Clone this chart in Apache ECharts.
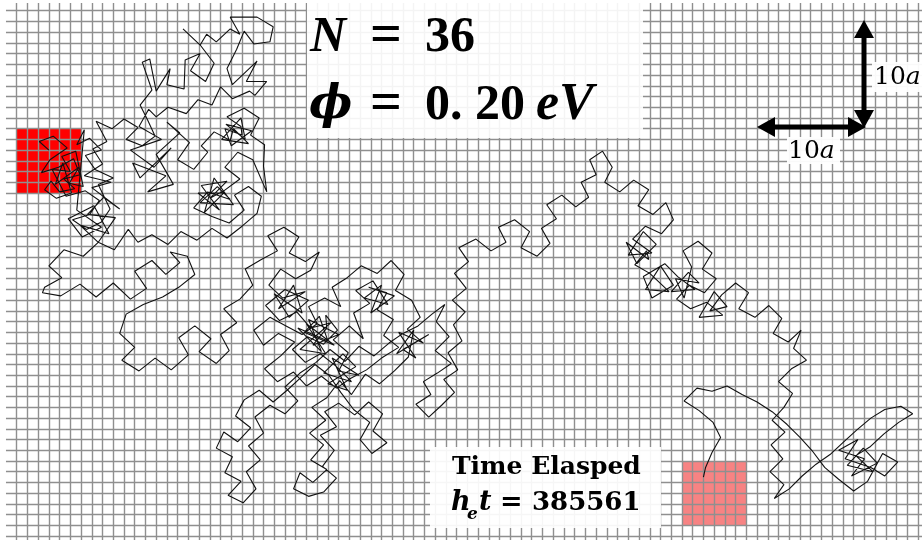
<!DOCTYPE html>
<html>
<head>
<meta charset="utf-8">
<script src="https://cdn.jsdelivr.net/npm/echarts@6/dist/echarts.min.js"></script>
<style>
  html, body { margin: 0; padding: 0; background: #fff; }
  #chart { width: 922px; height: 540px; }
</style>
</head>
<body>
<div id="chart"></div>
<script>
// Lattice extent in units of a (x to the right, y downwards)
const latticeX = [-1, 84.37];
const latticeY = [-1, 49.37];

// Source and target regions: [x0, y0, x1, y1]
const sourceSquare = [0, 11, 6, 17];
const targetSquare = [62, 42, 68, 48];

// Electron trajectory, in lattice units, piece by piece
const walkStart = [
  [3.0,13.0],[2.1,12.2],[3.4,11.7],[4.7,12.8],[3.1,13.9],[2.3,15.1],[3.9,14.6],[5.3,13.8],[5.9,15.3],[4.4,15.7],
  [5.4,16.6],[4.0,16.9],[3.2,15.9],[2.6,16.7],[3.7,17.5],[5.1,17.0],[4.3,14.2],[3.6,16.2],[5.8,14.6],[4.9,16.1],
  [6.2,16.4],[5.5,13.1],[4.2,13.6],[5.0,15.0],[3.3,14.8],[4.6,17.3],[6.4,16.8],[7.7,17.7],[6.8,19.0],[5.2,19.5],
  [6.5,20.4],[7.9,19.7],[8.7,18.5],[7.6,16.2],[9.0,15.6],[7.3,14.8],[6.4,13.5],[7.9,13.0],[6.8,11.9],[5.6,12.5],
  [6.3,11.1]
];
const knotBelowSource = [
  [5.6,18.6],[7.9,20.2],[6.1,21.1],[4.8,19.4],[7.2,18.2],[8.6,20.8],[5.9,20.0],[7.6,21.6],[9.2,19.3],[6.6,19.0],
  [8.1,17.4],[9.6,18.5],[7.0,16.5],[8.8,16.0],[6.3,15.4],[8.0,14.3],[7.1,12.9],[8.4,12.2]
];
const walkToNorth = [
  [7.4,10.3],[8.9,11.0],[10.0,10.1],[11.3,10.9],[10.2,12.0],[11.7,12.6],[12.9,11.7]
];
const walkNorth = [
  [12.2,10.2],[11.5,8.8],[12.6,7.4],[11.7,4.8],[12.4,4.5],[13.0,7.5],[14.3,5.4],[14.0,6.9],[15.6,7.3],[15.7,4.6],
  [17.1,4.0],[16.2,5.6],[17.6,6.6],[18.4,4.9],[17.1,3.2],[15.5,1.7],[17.1,3.2],[17.7,2.2],[18.6,2.9],[19.9,1.7],
  [20.8,2.2],[19.9,0.6],[22.4,0.6],[23.9,1.5],[23.6,2.9],[22.1,3.1],[21.2,1.9],[20.5,3.6],[19.6,5.4],[20.1,6.9],
  [22.4,4.7],[21.4,6.6],[23.3,6.6],[22.2,7.9],[21.7,7.5],[20.1,8.2],[19.0,7.1],[18.2,8.8],[16.9,8.3],[15.8,9.6],
  [14.1,9.0],[13.0,9.9],[12.3,9.2],[11.4,10.8]
];
const knotWestUpper = [
  [13.5,12.0],[10.6,13.0],[12.8,14.6],[14.4,12.8],[11.5,15.6],[10.8,14.2],[13.9,15.4],[12.2,16.9],[14.6,16.2],[13.0,13.4],
  [15.2,11.4],[14.0,10.4],[16.1,12.3],[15.0,13.9]
];
const walkMidUpper = [
  [16.5,14.8],[17.8,13.2],[17.2,12.6],[18.4,11.3],[19.9,12.1],
  [20.2,11.0],[21.6,12.4],[19.1,12.0],[20.9,10.0],[21.3,12.0],[19.5,10.6],[21.9,11.2],[20.0,12.6],[19.4,11.0],[21.0,11.6],
  [20.9,10.8],[19.6,9.9],[21.2,9.1],[22.6,10.0],[21.8,11.6],[23.1,12.5],[23.0,14.5],[23.3,16.9],[22.0,13.9],[20.6,13.2],
  [19.4,14.6],[20.8,15.7],[19.3,16.8],
  [18.0,17.5],[19.6,15.9],[17.2,16.3],[18.9,18.6],[16.9,17.0],[19.3,17.0],[17.5,18.8],[18.4,15.6],[20.2,18.1],[17.1,17.9],
  [18.7,16.4],[19.9,17.6],[17.8,16.9],[16.5,18.4],[18.2,19.2],
  [19.8,19.8],[21.2,18.6],[20.3,17.2],[21.6,16.4],[22.8,17.3],[22.4,18.9],[21.0,20.1],[19.6,21.2],[18.2,20.3],[16.8,21.4],
  [15.3,20.6],[14.1,21.8],[12.6,20.9],[11.3,21.6],[10.4,20.4]
];
const walkWestLoop = [
  [9.1,22.3],[7.6,21.6],[6.2,22.9],[4.4,22.3],[3.0,23.8],[4.2,24.9],[2.6,25.8],[2.4,26.3],[4.1,26.6],[5.9,25.5],
  [7.4,26.7],[9.0,25.4],[10.6,26.9],[12.1,25.9],[11.0,24.3],[12.6,23.3],[13.9,24.6],[15.2,23.5],[14.3,22.5],[15.9,22.9],
  [16.6,24.6],[15.1,25.8],[13.6,26.7],[11.8,27.4],[10.2,28.3],[9.6,30.1],[11.0,31.4],[9.8,32.6],[11.4,33.6],[12.9,32.4],
  [14.4,33.5],[16.0,32.1],[15.1,30.5],[16.6,29.4],[18.1,30.6],[17.0,31.8],[18.6,32.9],[19.8,31.7],[19.0,30.2],[20.5,29.1],
  [19.3,27.8],[20.8,26.9],[22.0,25.6],[21.3,24.1],[22.8,23.2],[24.3,22.4],[23.4,21.0],[24.9,20.2]
];
const walkCentreA = [
  [26.3,21.1],[25.4,22.6],[26.9,23.4],[28.2,22.5],[27.4,24.2],[26.0,25.0],[24.6,24.1],[23.5,25.6],[24.8,26.8],
  [26.9,26.2],[24.4,27.8],[25.8,25.6],[26.6,28.2],[24.0,26.4],[25.4,28.6],[27.2,27.0],[25.0,26.0],
  [23.2,27.5],[24.5,28.9],[26.1,28.1],[27.4,29.6]
];
const knotCentre = [
  [29.3,29.1],[26.4,31.6],[28.8,32.0],[27.0,29.2],[29.6,31.2],[26.8,30.0],[28.2,28.5],[29.0,30.8],[26.2,29.6],[28.4,31.8],
  [27.2,28.8],[30.0,30.2],[27.6,31.2],[28.9,29.6],[28.8,28.4],[29.9,29.8],[28.6,31.1],[27.1,30.4],[25.7,31.6],[26.9,32.8],
  [28.3,32.0],[29.7,33.1],
  [31.2,34.6],[28.6,33.8],[30.4,32.0],[31.6,33.2],[29.0,34.8],[30.8,35.4],[29.4,32.4],[31.9,34.0],[30.0,33.6]
];
const walkCentreB = [
  [30.9,31.9],[29.5,30.7],[31.0,29.4],[32.3,30.6],[31.4,28.2],[32.9,27.3],[31.6,26.1],[33.2,25.2],
  [34.6,27.4],[32.4,26.8],[34.0,25.6],[33.0,28.2],[35.2,26.6],[32.8,25.8],[34.5,26.3],
  [33.6,27.9],[35.1,28.8],[34.2,30.3],[35.6,31.4],[34.0,32.4],[32.6,33.5],[31.1,34.3],[29.8,35.2],[28.4,34.1],[27.0,35.0],
  [25.8,33.7],[24.3,34.6],[23.1,33.4],[24.6,32.2],[25.9,30.9],[24.4,30.1],[23.0,31.2],[22.1,29.8],[23.6,28.6],[25.1,29.4],
  [26.6,30.2],[28.0,29.2],[27.2,27.6],[28.7,26.8],[30.2,27.6],[29.4,25.8],[30.8,24.9],[32.1,23.8],[33.6,24.5],[34.9,23.3],
  [36.1,24.6],[35.3,26.1],[36.8,27.0],[37.6,28.6],[36.4,29.7],[37.9,31.0],
  [35.6,30.0],[37.2,32.4],[36.0,31.6],[38.4,30.2],[35.4,32.0],[37.0,29.8],
  [36.5,32.3],[35.2,33.6],[33.8,34.8],[32.5,33.9]
];
const walkSouthTails = [
  [31.2,35.8],[30.1,34.5],[28.9,36.1],[27.5,37.0],[28.8,38.2],[27.3,39.4],[28.6,40.5],[27.4,41.9],[28.9,42.8],[27.6,44.0],
  [26.4,43.1],[25.8,44.6],[27.2,45.3],[28.6,44.9],[29.8,43.6],[28.5,42.5],[29.6,41.0],[28.3,39.6],[29.8,38.8],[28.7,37.4],
  [30.0,36.6],[31.5,37.7],[32.8,36.5],[34.1,37.6],[33.2,39.2],[34.5,40.3],[33.1,41.3],[32.0,40.0],[32.9,38.4],[31.4,37.2],
  [30.2,35.6],[29.1,34.0],[27.8,33.0],[26.5,34.2],[25.2,35.4],[23.9,36.5],[22.6,35.4],[21.2,36.3],[20.4,37.8],[21.8,38.9],
  [20.6,40.2],[19.3,39.3],[18.6,40.8],[20.1,41.6],[19.4,43.1],[20.9,43.9],[19.7,45.2],[21.1,45.9],[22.3,44.6],[21.4,43.0],
  [22.7,41.9],[21.6,40.6],[23.0,39.4],[22.2,37.9],[23.6,36.8],[25.0,37.6],[26.2,36.4],[25.0,35.1],[26.4,33.8],[27.9,32.8],
  [29.2,31.6],[30.6,32.7],[31.9,31.3],[33.3,32.2],[34.7,31.0],[36.0,30.1],[37.4,29.4],[38.7,28.3],[39.9,27.4],[39.1,29.0],
  [40.3,30.4],[39.0,31.7],[40.5,32.9],[39.2,33.8],[37.9,34.6],[38.6,35.8],[37.2,36.7],[38.4,37.9],[39.6,36.8],[40.8,35.6],
  [39.8,34.4],[41.1,33.5],[40.2,31.9],[41.5,30.8],[40.7,29.3],[41.8,28.1],[40.6,27.0],[41.9,25.9],[40.8,24.5],[42.1,23.4],
  [41.2,22.1]
];
const walkEast = [
  [42.8,21.3],[44.2,22.4],[45.6,21.6],[44.9,20.2],[46.4,19.5],[47.8,20.6],[47.0,22.1],[48.5,22.9],[49.7,21.7],[48.9,20.3],
  [50.3,19.4],[49.4,18.1],[50.8,17.2],[52.1,18.3],[53.3,17.4],[52.6,16.0],[54.0,15.3],[53.4,13.9],[54.6,13.1],[55.5,14.6],
  [54.8,16.0],[56.2,16.9],[57.5,15.8],[58.9,16.7],[57.9,18.2],[59.3,19.0],[60.5,17.9],[61.2,19.5],[60.1,20.8],[58.6,20.1],
  [57.4,21.3],
  [59.2,22.6],[57.0,22.8],[58.4,20.6],[59.6,21.8],[57.8,23.6],[56.8,21.6],[58.9,23.2],
  [58.7,22.4],[57.6,23.7],[59.0,24.5],
  [60.8,26.2],[58.6,26.0],[60.0,23.8],[61.2,25.6],[59.2,26.8],[58.4,24.8],
  [60.4,23.6],[61.6,24.8],
  [63.2,26.0],[61.0,26.2],[62.6,24.4],[63.6,25.4],[61.4,25.0],[62.2,26.8],
  [62.9,23.9],[62.1,22.4],[63.5,21.5],[64.8,22.6],
  [63.9,24.1],[65.2,25.0],[64.1,26.3],[62.7,25.6],[61.5,26.9],[62.8,27.8],[64.3,27.2],
  [65.8,28.4],[63.6,28.6],[65.0,26.2],[66.2,27.6],[64.6,28.0],
  [65.7,26.5],[67.0,25.4],[68.2,26.3],
  [67.3,27.8],[68.8,28.6],[70.1,27.5],[71.3,28.7],[70.5,30.1],[71.9,30.9],[73.1,29.8],[72.4,31.5],[73.6,32.6],[72.2,33.4]
];
const walkSouthEast = [
  [71.0,34.6],[72.3,35.7],[71.5,37.0],[70.4,38.2],[71.6,39.3],[70.3,40.5],[71.4,41.8],[70.2,43.0],[71.5,44.2],[70.6,45.5],
  [72.0,44.6],[73.2,43.4],[74.5,42.3],[75.8,41.4],[77.1,40.2],[78.3,39.1],[79.6,38.0],[80.9,37.2],[82.4,36.9],[83.5,37.6],
  [82.2,38.4],[80.8,39.5],[79.5,40.7],[78.2,41.5],
  [79.8,43.0],[77.4,42.4],[78.9,40.8],[80.2,42.2],[77.8,43.4],[79.0,41.8],[76.6,41.0],[78.4,40.0],[77.2,41.8],
  [79.6,42.6],[80.9,43.4],[82.1,42.1],[80.7,41.3],[79.3,43.9],[78.0,44.8],
  [76.6,43.7],[75.3,42.6],[74.1,41.0],[73.0,39.8],[71.8,38.6],[70.4,37.4],[69.0,36.5],[67.6,35.8],[66.2,35.0],[64.8,35.5],
  [63.4,35.2],[62.2,36.4],[63.6,37.3],[64.9,38.4],[65.6,39.8],[64.8,41.2],[64.2,42.6],[64.0,43.5]
];

const walk = [].concat(walkStart, knotBelowSource, walkToNorth, walkNorth, knotWestUpper,
  walkMidUpper, walkWestLoop, walkCentreA, knotCentre, walkCentreB, walkSouthTails, walkEast, walkSouthEast);

const chart = echarts.init(document.getElementById('chart'), null, { renderer: 'canvas' });

const gridLine = { show: true, showMinLine: false, showMaxLine: false, lineStyle: { color: '#8f8f8f', width: 1.4 } };

const serif = '"Liberation Serif", "DejaVu Serif", serif';
const dvSerif = '"DejaVu Serif", serif';

chart.setOption({
  animation: false,
  backgroundColor: '#ffffff',
  grid: { left: 5.97, right: 0, top: -1.5, bottom: 0, containLabel: false },
  xAxis: {
    type: 'value', min: latticeX[0], max: latticeX[1], interval: 1, z: 3,
    axisLine: { show: false }, axisTick: { show: false }, axisLabel: { show: false },
    splitLine: gridLine
  },
  yAxis: {
    type: 'value', min: latticeY[0], max: latticeY[1], interval: 1, inverse: true, z: 3,
    axisLine: { show: false }, axisTick: { show: false }, axisLabel: { show: false },
    splitLine: gridLine
  },
  series: [
    {
      type: 'custom', z: 1, silent: true,
      data: [sourceSquare.concat(0), targetSquare.concat(1)],
      renderItem: function (params, api) {
        const a = api.coord([api.value(0), api.value(1)]);
        const b = api.coord([api.value(2), api.value(3)]);
        return {
          type: 'rect',
          shape: { x: Math.min(a[0], b[0]), y: Math.min(a[1], b[1]), width: Math.abs(b[0] - a[0]), height: Math.abs(b[1] - a[1]) },
          style: { fill: api.value(4) === 0 ? '#ff0000' : '#f78383' }
        };
      }
    },
    {
      type: 'line', z: 5, silent: true,
      data: walk, showSymbol: false, smooth: false,
      lineStyle: { color: '#111111', width: 1.1 }
    }
  ],
  graphic: [
    { type: 'rect', z: 50, shape: { x: 0, y: 0, width: 922, height: 3 }, style: { fill: '#ffffff' } },
    // parameter box
    { type: 'rect', z: 50, shape: { x: 307, y: 3, width: 336, height: 135 }, style: { fill: 'rgba(255,255,255,0.9)' } },
    { type: 'text', z: 51, style: { x: 310, y: 38, text: 'N', font: 'italic bold 50px ' + serif, fill: '#000', verticalAlign: 'middle' } },
    { type: 'text', z: 51, style: { x: 370, y: 38, text: '=', font: 'bold 56px ' + serif, fill: '#000', verticalAlign: 'middle' } },
    { type: 'text', z: 51, style: { x: 425, y: 38, text: '36', font: 'bold 50px ' + serif, fill: '#000', verticalAlign: 'middle' } },
    { type: 'text', z: 51, style: { x: 309, y: 106, text: 'ϕ', font: 'italic bold 46px ' + dvSerif, fill: '#000', verticalAlign: 'middle' } },
    { type: 'text', z: 51, style: { x: 370, y: 106, text: '=', font: 'bold 56px ' + serif, fill: '#000', verticalAlign: 'middle' } },
    { type: 'text', z: 51, style: { x: 425, y: 106, text: '0. 20', font: 'bold 50px ' + serif, fill: '#000', verticalAlign: 'middle' } },
    { type: 'text', z: 51, style: { x: 536, y: 106, text: 'eV', font: 'italic bold 52px ' + serif, fill: '#000', verticalAlign: 'middle' } },
    // elapsed time box
    { type: 'rect', z: 50, shape: { x: 430, y: 447, width: 231, height: 81 }, style: { fill: 'rgba(255,255,255,0.92)' } },
    { type: 'text', z: 51, style: { x: 452, y: 467, text: 'Time Elasped', font: 'bold 25px ' + dvSerif, fill: '#000', verticalAlign: 'middle' } },
    { type: 'text', z: 51, style: { x: 451, y: 503, text: 'h', font: 'italic bold 27px ' + dvSerif, fill: '#000', verticalAlign: 'middle' } },
    { type: 'text', z: 51, style: { x: 467, y: 515, text: 'e', font: 'italic bold 17px ' + dvSerif, fill: '#000', verticalAlign: 'middle' } },
    { type: 'text', z: 51, style: { x: 479, y: 503, text: 't', font: 'italic bold 27px ' + dvSerif, fill: '#000', verticalAlign: 'middle' } },
    { type: 'text', z: 51, style: { x: 500, y: 503, text: '=', font: 'bold 27px ' + dvSerif, fill: '#000', verticalAlign: 'middle' } },
    { type: 'text', z: 51, style: { x: 532, y: 503, text: '385561', font: 'bold 26px ' + dvSerif, fill: '#000', verticalAlign: 'middle' } },
    // scale bars
    { type: 'line', z: 52, shape: { x1: 864, y1: 34, x2: 864, y2: 112 }, style: { stroke: '#000', lineWidth: 5 } },
    { type: 'polygon', z: 52, shape: { points: [[864, 20], [854, 38], [874, 38]] }, style: { fill: '#000' } },
    { type: 'polygon', z: 52, shape: { points: [[864, 128], [854, 110], [874, 110]] }, style: { fill: '#000' } },
    { type: 'line', z: 52, shape: { x1: 772, y1: 127, x2: 850, y2: 127 }, style: { stroke: '#000', lineWidth: 5 } },
    { type: 'polygon', z: 52, shape: { points: [[757, 127], [775, 117], [775, 137]] }, style: { fill: '#000' } },
    { type: 'polygon', z: 52, shape: { points: [[866, 127], [848, 117], [848, 137]] }, style: { fill: '#000' } },
    { type: 'rect', z: 50, shape: { x: 872, y: 62, width: 50, height: 30 }, style: { fill: 'rgba(255,255,255,0.95)' } },
    { type: 'text', z: 51, style: { x: 874, y: 77, text: '{n|10}{v|a}', font: '25px ' + dvSerif, verticalAlign: 'middle', rich: { n: { font: '25px ' + dvSerif, fill: '#000' }, v: { font: 'italic 25px ' + dvSerif, fill: '#000' } } } },
    { type: 'rect', z: 50, shape: { x: 787, y: 137, width: 53, height: 27 }, style: { fill: 'rgba(255,255,255,0.95)' } },
    { type: 'text', z: 51, style: { x: 788, y: 151, text: '{n|10}{v|a}', font: '25px ' + dvSerif, verticalAlign: 'middle', rich: { n: { font: '25px ' + dvSerif, fill: '#000' }, v: { font: 'italic 25px ' + dvSerif, fill: '#000' } } } }
  ]
});
</script>
</body>
</html>
